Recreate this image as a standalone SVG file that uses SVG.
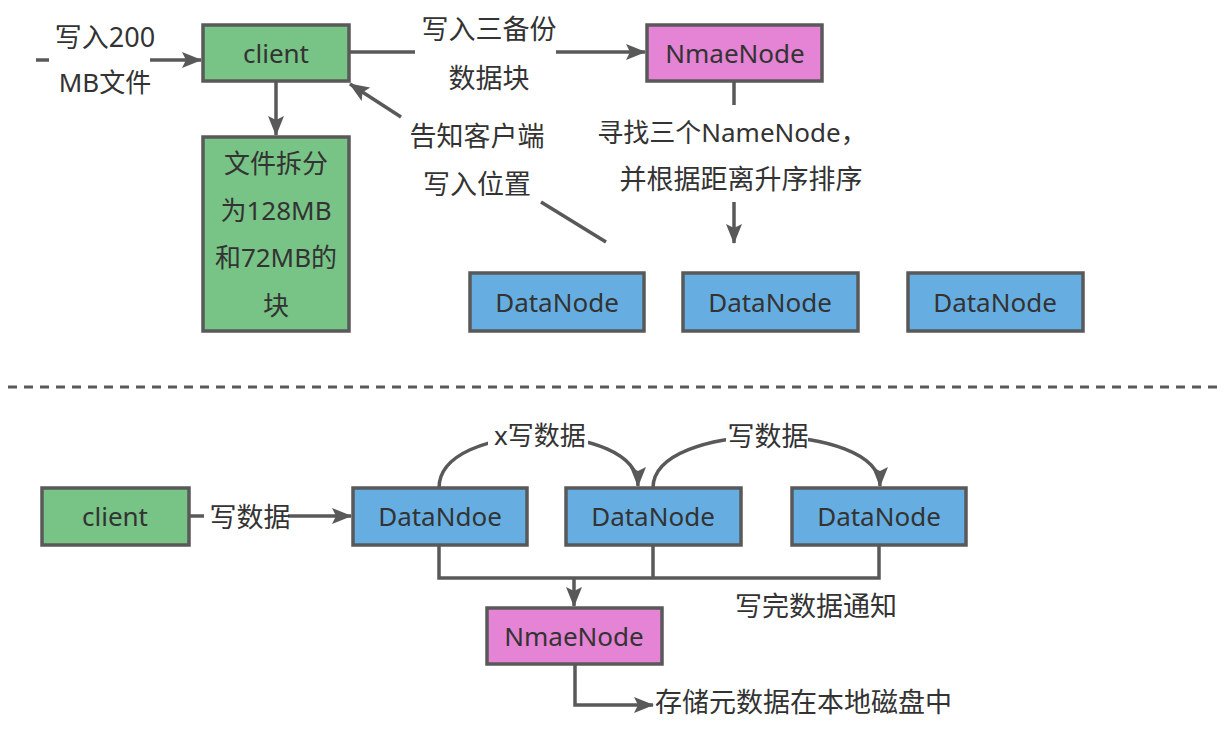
<svg xmlns="http://www.w3.org/2000/svg" width="1226" height="736" viewBox="0 0 1226 736">
<style>
.box{stroke:#595959;stroke-width:3.5}
.g{fill:#78C386}
.b{fill:#66AEE2}
.p{fill:#E583D4}
text{font-family:"Noto Sans","Noto Sans CJK SC",sans-serif;font-size:26px;fill:#333;text-anchor:middle;dominant-baseline:central}
.cjk{font-size:27px}
.ln{fill:none;stroke:#595959;stroke-width:3.5}
.arr{marker-end:url(#ah)}
</style>
<defs>
<marker id="ah" viewBox="0 0 20 16" refX="19" refY="8" markerWidth="20" markerHeight="16" markerUnits="userSpaceOnUse" orient="auto">
<path d="M0,0 L20,8 L0,16 L4,8 z" fill="#595959"/>
</marker>
</defs>
<rect width="1226" height="736" fill="#fff"/>
<g id="connectors">
<path class="ln" d="M36,60 H49"/>
<path class="ln arr" d="M150,60 H201"/>
<path class="ln" d="M349,52 H415"/>
<path class="ln arr" d="M556,52 H645"/>
<path class="ln" d="M734,82 V105"/>
<path class="ln arr" d="M734,202 V243"/>
<path class="ln arr" d="M276,82 V135"/>
<path class="ln" d="M606,242 L541,202"/>
<path class="ln arr" d="M401,117 L350,84"/>
<path d="M8,387 H1222" fill="none" stroke="#595959" stroke-width="3" stroke-dasharray="9 7"/>
<path class="ln" d="M189,516 H204"/>
<path class="ln arr" d="M288,516 H351"/>
<path class="ln arr" d="M439,488 C439,420 638,420 638,486"/>
<path class="ln arr" d="M653,488 C653,420 880,420 880,486"/>
<path class="ln" d="M439,545 V578 H879 V545 M653,545 V578"/>
<path class="ln arr" d="M574,578 V606"/>
<path class="ln arr" d="M575,664 V705 H653"/>
</g>
<g id="labels">
<text x="105" y="36" class="cjk">写入200</text>
<text x="105" y="82">MB文件</text>
<text x="489" y="28" class="cjk">写入三备份</text>
<text x="489" y="77" class="cjk">数据块</text>
<text x="732" y="132">寻找三个NameNode，</text>
<text x="741" y="178" class="cjk">并根据距离升序排序</text>
<text x="477" y="135" class="cjk">告知客户端</text>
<text x="477" y="183" class="cjk">写入位置</text>
<text x="250" y="516" class="cjk">写数据</text>
<rect x="488" y="419" width="100" height="30" fill="#fff"/>
<text x="540" y="435">x写数据</text>
<rect x="726" y="419" width="82" height="30" fill="#fff"/>
<text x="768" y="435" class="cjk">写数据</text>
<text x="816" y="605" class="cjk">写完数据通知</text>
<text x="655" y="701" class="cjk" style="text-anchor:start">存储元数据在本地磁盘中</text>
</g>
<g id="client-top"><rect class="box g" x="203" y="25" width="146" height="56"/><text x="276" y="53">client</text></g>
<g id="namenode-top"><rect class="box p" x="647" y="25" width="175" height="56"/><text x="735" y="53">NmaeNode</text></g>
<g id="split-block"><rect class="box g" x="203" y="137" width="146" height="194"/>
<text x="276" y="163">文件拆分</text><text x="276" y="210">为128MB</text><text x="276" y="257">和72MB的</text><text x="276" y="305">块</text></g>
<g id="datanode-top-1"><rect class="box b" x="470" y="273" width="174" height="58"/><text x="557" y="302">DataNode</text></g>
<g id="datanode-top-2"><rect class="box b" x="683" y="273" width="175" height="58"/><text x="770" y="302">DataNode</text></g>
<g id="datanode-top-3"><rect class="box b" x="908" y="273" width="175" height="58"/><text x="995" y="302">DataNode</text></g>
<g id="client-bottom"><rect class="box g" x="42" y="488" width="147" height="57"/><text x="115" y="516">client</text></g>
<g id="datandoe-bottom-1"><rect class="box b" x="353" y="488" width="174" height="57"/><text x="440" y="516">DataNdoe</text></g>
<g id="datanode-bottom-2"><rect class="box b" x="566" y="488" width="175" height="57"/><text x="653" y="516">DataNode</text></g>
<g id="datanode-bottom-3"><rect class="box b" x="792" y="488" width="174" height="57"/><text x="879" y="516">DataNode</text></g>
<g id="namenode-bottom"><rect class="box p" x="487" y="608" width="175" height="56"/><text x="574" y="636">NmaeNode</text></g>
</svg>
